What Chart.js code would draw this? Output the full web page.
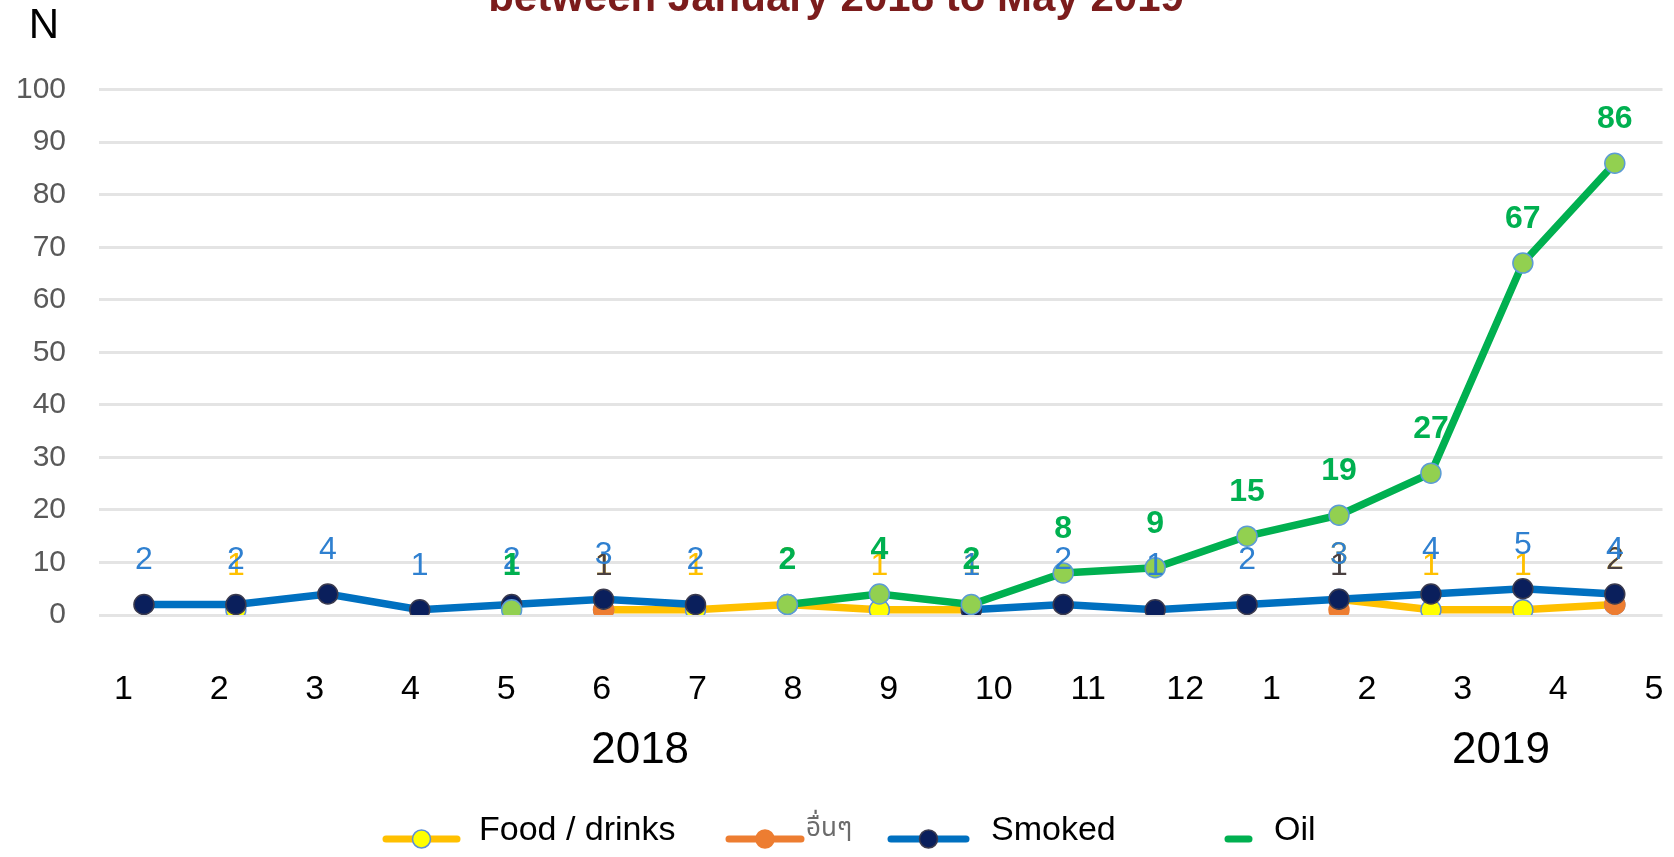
<!DOCTYPE html>
<html>
<head>
<meta charset="utf-8">
<script src="https://cdn.jsdelivr.net/npm/chart.js@4"></script>
<style>
  body { margin: 0; background: #fff; }
  #wrap { width: 1674px; height: 857px; position: relative; }
</style>
</head>
<body>
<div id="wrap"><canvas id="incidentChart"></canvas></div>
<script>
// month index 0 = Jan 2018 ... 16 = May 2019
const monthLabels = ['1', '2', '3', '4', '5', '6', '7', '8', '9', '10', '11', '12', '1', '2', '3', '4', '5'];
const yearLabels = ['2018', '2019'];
const seriesNames = ['Food / drinks', 'อื่นๆ', 'Smoked', 'Oil'];

const foodDrinks = [null, 1, null, null, null, 1, 1, 2, 1, 1, null, null, null, 3, 1, 1, 2];
const others     = [null, null, null, null, null, 1, null, null, null, null, null, null, null, 1, null, null, 2];
const smoked     = [2, 2, 4, 1, 2, 3, 2, null, null, 1, 2, 1, 2, 3, 4, 5, 4];
const oil        = [null, null, null, null, 1, null, null, 2, 4, 2, 8, 9, 15, 19, 27, 67, 86];

const FONT = '"Liberation Sans", Arial, sans-serif';

function toPoints(values) {
    return values.map((v, i) => ({ x: i, y: v }));
}

// numbers written above each marker
const valueLabels = {
    id: 'valueLabels',
    afterDatasetsDraw(chart) {
        const ctx = chart.ctx;
        ctx.save();
        ctx.textAlign = 'center';
        ctx.textBaseline = 'middle';
        chart.data.datasets.forEach((ds, di) => {
            const meta = chart.getDatasetMeta(di);
            ctx.font = ds.labelFont;
            ctx.fillStyle = ds.labelColor;
            meta.data.forEach((pt, i) => {
                const v = ds.data[i].y;
                if (v === null) return;
                ctx.fillText(String(v), pt.x, pt.y - 44);
            });
        });
        ctx.restore();
    }
};

// title, axis name, year captions and the legend row
const decorations = {
    id: 'decorations',
    afterDraw(chart) {
        const ctx = chart.ctx;
        ctx.save();

        ctx.fillStyle = '#7B1C1C';
        ctx.font = 'bold 42px ' + FONT;
        ctx.textAlign = 'center';
        ctx.textBaseline = 'alphabetic';
        ctx.fillText('between January 2018 to May 2019', 836, 11);

        ctx.fillStyle = '#000';
        ctx.font = '42px ' + FONT;
        ctx.textBaseline = 'middle';
        ctx.fillText('N', 44, 26);

        const months = chart.scales.months;
        ctx.font = '44px ' + FONT;
        ctx.fillText(yearLabels[0], months.getPixelForValue(5.5), 751);
        ctx.fillText(yearLabels[1], months.getPixelForValue(14.5), 751);

        // legend
        const ly = 839;
        const items = [
            { ds: 0, x1: 386, x2: 457, tx: 479, font: '34px ' + FONT, color: '#000' },
            { ds: 1, x1: 729, x2: 801, tx: 806, font: '26px "Noto Sans Thai", "Noto Sans", ' + FONT, color: '#6b6b6b' },
            { ds: 2, x1: 891, x2: 966, tx: 991, font: '34px ' + FONT, color: '#000' },
            { ds: 3, x1: 1228, x2: 1249, tx: 1274, font: '34px ' + FONT, color: '#000', noMarker: true }
        ];
        items.forEach(it => {
            const ds = chart.data.datasets[it.ds];
            ctx.strokeStyle = ds.borderColor;
            ctx.lineWidth = 7;
            ctx.lineCap = 'round';
            ctx.beginPath();
            ctx.moveTo(it.x1, ly);
            ctx.lineTo(it.x2, ly);
            ctx.stroke();
            if (!it.noMarker) {
                ctx.beginPath();
                ctx.arc((it.x1 + it.x2) / 2, ly, 9, 0, Math.PI * 2);
                ctx.fillStyle = ds.pointBackgroundColor;
                ctx.fill();
                ctx.lineWidth = 1.5;
                ctx.strokeStyle = ds.pointBorderColor;
                ctx.stroke();
            }
            ctx.fillStyle = it.color;
            ctx.font = it.font;
            ctx.textAlign = 'left';
            ctx.textBaseline = 'middle';
            ctx.fillText(seriesNames[it.ds], it.tx, 831);
        });

        ctx.restore();
    }
};

function makeDataset(name, values, line, fill, edge, labelColor, labelFont, order) {
    return {
        label: name,
        data: toPoints(values),
        borderColor: line,
        borderWidth: 7.5,
        pointRadius: 10,
        pointBackgroundColor: fill,
        pointBorderColor: edge,
        pointBorderWidth: 1.5,
        spanGaps: false,
        tension: 0,
        labelColor: labelColor,
        labelFont: labelFont,
        order: order
    };
}

const datasets = [
    makeDataset(seriesNames[0], foodDrinks, '#FFC000', '#FFFF00', '#5B8FD6', '#FFC000', '32px ' + FONT, 4),
    makeDataset(seriesNames[1], others, '#ED7D31', '#ED7D31', '#ED7D31', '#4a4040', '32px ' + FONT, 3),
    makeDataset(seriesNames[2], smoked, '#0070C0', '#0A1F5C', '#3b3b4f', '#2F80D0', '32px ' + FONT, 2),
    makeDataset(seriesNames[3], oil, '#00B050', '#92D050', '#5B9BD5', '#00B050', 'bold 32px ' + FONT, 1)
];

const ctx1 = document.getElementById('incidentChart').getContext('2d');

new Chart(ctx1, {
    type: 'line',
    data: { datasets: datasets },
    options: {
        responsive: true,
        maintainAspectRatio: false,
        animation: false,
        layout: {
            padding: { left: 0, top: 89.7, right: 11, bottom: 122 }
        },
        plugins: {
            legend: { display: false },
            tooltip: { enabled: false }
        },
        scales: {
            x: {
                type: 'linear',
                display: false,
                min: -0.489,
                max: 16.519
            },
            months: {
                type: 'linear',
                position: 'bottom',
                min: -0.157,
                max: 16.188,
                grid: { display: false },
                border: { display: false },
                afterBuildTicks: (scale) => {
                    scale.ticks = monthLabels.map((_, i) => ({ value: i }));
                },
                afterFit: (scale) => {
                    scale.height = 120;
                    scale.paddingLeft = 0;
                    scale.paddingRight = 0;
                },
                ticks: {
                    align: 'start',
                    autoSkip: false,
                    maxRotation: 0,
                    padding: 46,
                    color: '#000',
                    font: { family: FONT, size: 34 },
                    callback: (value) => monthLabels[value] ?? ''
                }
            },
            y: {
                min: 0,
                max: 100,
                afterFit: (scale) => {
                    scale.width = 99;
                    scale.paddingTop = 0;
                    scale.paddingBottom = 0;
                },
                border: { display: false },
                grid: {
                    color: '#e4e4e4',
                    lineWidth: 3,
                    drawTicks: false
                },
                ticks: {
                    stepSize: 10,
                    padding: 33,
                    color: '#595959',
                    font: { family: FONT, size: 30 }
                }
            }
        }
    },
    plugins: [valueLabels, decorations]
});
</script>
</body>
</html>
